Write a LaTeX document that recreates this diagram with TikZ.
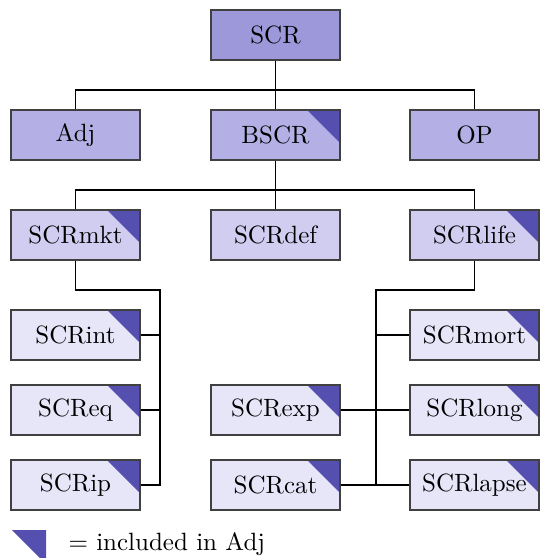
\documentclass[tikz,border=0pt]{standalone}
\begin{document}
\begin{tikzpicture}[x=0.4pt,y=-0.4pt,
  box/.style={draw=black!75, line width=0.55pt, minimum width=51.6pt, minimum height=20pt, inner sep=0pt, font=\normalsize},
  lvla/.style={box, fill=lvA},
  lvlb/.style={box, fill=lvB},
  lvlc/.style={box, fill=lvC},
  lvld/.style={box, fill=lvD},
  incl/.style={path picture={\fill[tri] ([xshift=-13.2pt]path picture bounding box.north east) -- (path picture bounding box.north east) -- ([yshift=-13.2pt]path picture bounding box.north east) -- cycle;}},
  link/.style={draw=black, line width=0.45pt}]
\definecolor{lvA}{HTML}{9D98DA}
\definecolor{lvB}{HTML}{B4B0E6}
\definecolor{lvC}{HTML}{D0CDF1}
\definecolor{lvD}{HTML}{E7E5F8}
\definecolor{tri}{HTML}{5550B0}
\useasboundingbox (0,0) rectangle (540,558);

% top level
\node[lvla] (scr) at (275.5,35) {SCR};
% second level
\node[lvlb] (adj) at (75.5,135) {Adj};
\node[lvlb,incl] (bscr) at (275.5,135) {BSCR};
\node[lvlb] (op) at (474.5,135) {OP};
% third level
\node[lvlc,incl] (mkt) at (75.5,235) {SCRmkt};
\node[lvlc] (def) at (275.5,235) {SCRdef};
\node[lvlc,incl] (life) at (474.5,235) {SCRlife};
% market modules
\node[lvld,incl] (int) at (75.5,335) {SCRint};
\node[lvld,incl] (eq) at (75.5,410) {SCReq};
\node[lvld,incl] (ip) at (75.5,485) {SCRip};
% life modules
\node[lvld,incl] (mort) at (474.5,335) {SCRmort};
\node[lvld,incl] (long) at (474.5,410) {SCRlong};
\node[lvld,incl] (lapse) at (474.5,485) {SCRlapse};
\node[lvld,incl] (exp) at (275.5,410) {SCRexp};
\node[lvld,incl] (cat) at (275.5,485) {SCRcat};

% connectors
\coordinate (busA) at (275.5,90);
\coordinate (busB) at (275.5,190);
\draw[link] (scr.south) -- (busA);
\draw[link] (adj.north) |- (busA) -| (op.north);
\draw[link] (busA) -- (bscr.north);
\draw[link] (bscr.south) -- (busB);
\draw[link] (mkt.north) |- (busB) -| (life.north);
\draw[link] (busB) -- (def.north);

\coordinate (mktbus) at (160,290);
\draw[link] (mkt.south) |- (mktbus) |- (ip.east);
\draw[link] (int.east) -- (int.east -| mktbus);
\draw[link] (eq.east) -- (eq.east -| mktbus);

\coordinate (lifebus) at (376,290);
\draw[link] (life.south) |- (lifebus) |- (lapse.west);
\draw[link] (mort.west) -- (mort.west -| lifebus);
\draw[link] (exp.east) -- (long.west);
\draw[link] (cat.east) -- (lapse.west);

% legend
\fill[tri] (12,530) -- (46,530) -- (46,564) -- cycle;
\node[anchor=west, inner sep=0pt] (legend) at (68,544) {$=$ included in Adj};
\end{tikzpicture}
\end{document}
